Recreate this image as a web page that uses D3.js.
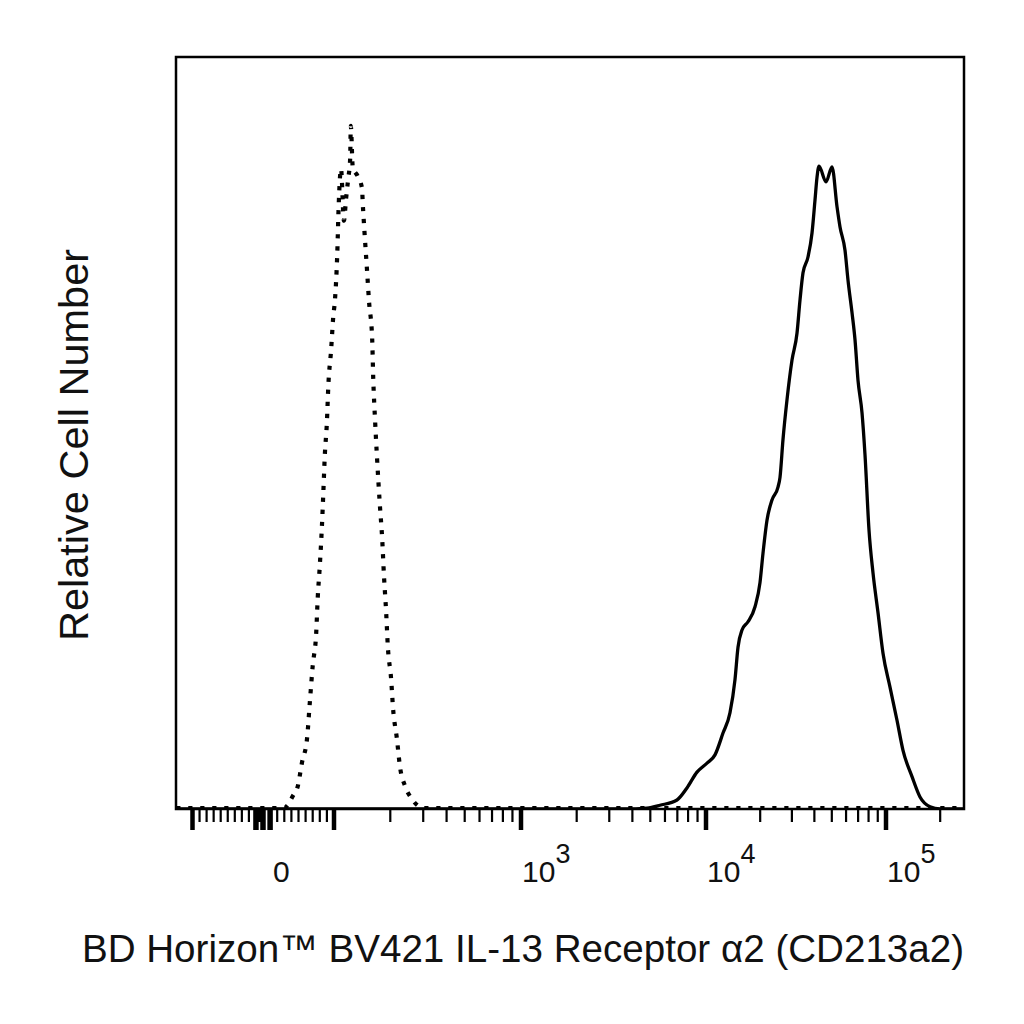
<!DOCTYPE html>
<html><head><meta charset="utf-8">
<script src="https://cdn.jsdelivr.net/npm/d3@7"></script>
<style>body{margin:0;background:#fff}svg{display:block}</style>
</head><body>
<svg id="c" width="1024" height="1024"></svg>
<script>
// ---- data ----
const isoX = [-170, 30, 34, 42, 49, 55, 62, 66, 70, 75, 77, 80, 83, 85, 87, 90, 92, 96, 99, 101, 104, 106, 109, 113, 116, 119, 122, 123, 126, 134, 141, 143, 146, 150, 154, 160, 162, 166, 170, 176, 181, 185, 190, 194, 202, 207, 217, 225, 240, 261, 281, 300, 270000];
const isoY = [0, 0, 0.3, 1.6, 2.9, 6.1, 9.2, 14.1, 18.9, 23.4, 27.8, 32.2, 37.5, 42.0, 46.8, 51.3, 56.1, 61.0, 65.4, 67.3, 73.4, 80.3, 85.0, 78.1, 81.0, 83.6, 86.3, 90.7, 85.2, 84.0, 82.5, 79.7, 76.1, 71.7, 67.3, 62.4, 57.4, 51.3, 46.4, 40.2, 35.8, 30.9, 26.1, 21.5, 17.2, 13.2, 9.2, 5.6, 2.9, 1.2, 0.3, 0, 0];
const stainX = [-170, 3650, 4800, 5640, 6970, 7890, 8940, 10130, 11220, 12430, 13590, 14490, 15060, 15850, 17110, 18720, 19950, 20730, 21820, 23260, 25120, 25770, 26770, 28180, 30050, 32040, 33290, 34590, 36870, 38810, 40330, 41370, 42440, 46420, 50120, 53430, 55530, 59190, 61520, 64740, 67270, 69900, 73560, 76450, 80450, 84680, 90290, 96240, 105250, 115100, 124300, 139500, 154500, 175600, 199500, 270000];
const stainY = [0, 0, 0.13, 0.5, 1.2, 2.8, 4.9, 6.1, 7.2, 10.1, 12.8, 17.2, 21.5, 23.8, 24.9, 26.9, 30.1, 34.0, 38.4, 41.1, 42.8, 44.1, 49.1, 54.4, 59.7, 63.3, 67.7, 71.3, 73.4, 76.6, 81.0, 84.0, 85.5, 83.4, 85.4, 80.1, 77.4, 74.3, 70.3, 66.0, 62.4, 57.0, 52.7, 47.1, 37.1, 31.4, 26.1, 20.7, 16.2, 11.8, 7.8, 4.3, 1.6, 0.3, 0, 0];
const majorTicks = [-100, -10, 0, 10, 100, 1000, 10000, 100000];
const minorTicks = [-90, -80, -70, -60, -50, -40, -30, -20, -5, 20, 30, 40, 50, 60, 70, 80, 90,
  200, 300, 400, 500, 600, 700, 800, 900,
  2000, 3000, 4000, 5000, 6000, 7000, 8000, 9000,
  20000, 30000, 40000, 50000, 60000, 70000, 80000, 90000, 200000];
const labelValues = [0, 1000, 10000, 100000];
const labelExps = ["", "3", "4", "5"];
const xTitle = "BD Horizon\u2122 BV421 IL-13 Receptor \u03b12 (CD213a2)";
const yTitle = "Relative Cell Number";

// ---- layout ----
const L = 176, R = 964, T = 57, B = 809;
const svg = d3.select("#c");
const font = "'Liberation Sans', Arial, sans-serif";

// biexponential-like display transform: linear within ±100, log beyond
function tf(v) {
  const a = Math.abs(v);
  return a <= 100 ? v / 100 : Math.sign(v) * (1 + Math.log10(a / 100));
}
const xs = d3.scaleLinear().domain([-1, 0, 1, 2, 3, 4]).range([192.5, 263, 334, 521, 706, 886]);
const x = v => xs(tf(v));
const y = d3.scaleLinear().domain([0, 100]).range([B, T]);

svg.append("clipPath").attr("id", "clip").append("rect")
  .attr("x", L).attr("y", T - 5).attr("width", R - L).attr("height", B - T + 5);

// ticks
svg.append("g").selectAll("line").data(minorTicks).join("line")
  .attr("x1", d => x(d)).attr("x2", d => x(d))
  .attr("y1", B).attr("y2", B + 13)
  .attr("stroke", "#000").attr("stroke-width", d => Math.abs(d) < 10 ? 5 : 2.2);
svg.append("g").selectAll("line").data(majorTicks).join("line")
  .attr("x1", d => x(d)).attr("x2", d => x(d))
  .attr("y1", B).attr("y2", B + 21)
  .attr("stroke", "#000").attr("stroke-width", d => Math.abs(d) <= 10 ? 5.5 : 4.5);

// curves
const line = (xa, ya) => d3.line()
  .x((d, i) => x(xa[i])).y((d, i) => y(ya[i]))
  .curve(d3.curveMonotoneX)(xa);

const plot = svg.append("g").attr("clip-path", "url(#clip)");
plot.append("path").attr("d", line(stainX, stainY))
  .attr("fill", "none").attr("stroke", "#000").attr("stroke-width", 3.3)
  .attr("stroke-linejoin", "round");
plot.append("path").attr("d", line(isoX, isoY))
  .attr("transform", "translate(0,-1)")
  .attr("fill", "none").attr("stroke", "#000").attr("stroke-width", 4.2)
  .attr("stroke-dasharray", "4.2 7.8");

// frame
svg.append("rect").attr("x", L).attr("y", T).attr("width", R - L).attr("height", B - T)
  .attr("fill", "none").attr("stroke", "#000").attr("stroke-width", 2.5);

// tick labels
const lab = svg.append("g").attr("font-family", font).attr("fill", "#111");
labelValues.forEach((v, i) => {
  const t = lab.append("text").attr("y", 882).attr("font-size", 30);
  if (labelExps[i] === "") {
    t.attr("x", x(v) + 10).text("0");
  } else {
    t.attr("x", x(v) + 1);
    t.append("tspan").text("10");
    t.append("tspan").attr("dy", -19).attr("font-size", 27).text(labelExps[i]);
  }
});

// axis titles
svg.append("text").attr("x", 523).attr("y", 962).attr("text-anchor", "middle")
  .attr("font-family", font).attr("font-size", 38.6).attr("fill", "#111").text(xTitle);
svg.append("text").attr("transform", "translate(88,445) rotate(-90)").attr("text-anchor", "middle")
  .attr("font-family", font).attr("font-size", 41.5).attr("fill", "#111").text(yTitle);
</script>
</body></html>
